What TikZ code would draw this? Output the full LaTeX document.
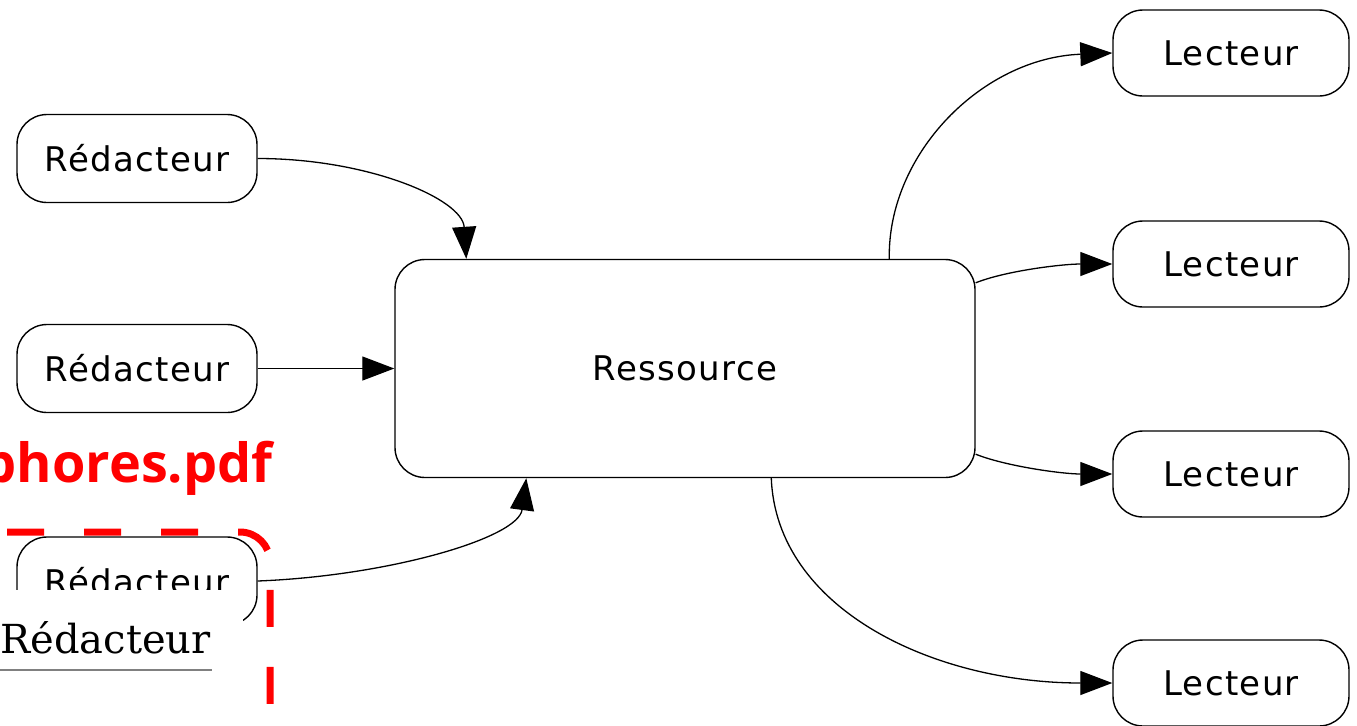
\documentclass[tikz,border=0pt]{standalone}
\usepackage{fontspec}
\usetikzlibrary{arrows.meta}
\setmainfont{DejaVu Sans}
\newfontfamily\boxfont{DejaVu Sans}[LetterSpace=4]
\newfontfamily\serifovl{DejaVu Serif}
\newfontfamily\stampfont{Open Sans}
\begin{document}
\begin{tikzpicture}[x=0.5pt,y=-0.5pt,
  every node/.style={inner sep=0pt},
  writer/.style={draw, line width=0.7pt, rounded corners=15pt,
    minimum width=120pt, minimum height=44pt,
    font=\boxfont\fontsize{17pt}{20pt}\selectfont},
  reader/.style={writer, minimum width=118pt, minimum height=43pt},
  hub/.style={draw, line width=0.7pt, rounded corners=15pt,
    minimum width=290pt, minimum height=109pt,
    font=\boxfont\fontsize{17pt}{20pt}\selectfont},
  link/.style={line width=0.65pt, -{Triangle[length=16pt,width=12pt]}}]
\useasboundingbox (0,0) rectangle (1357,725);
\clip (0,0) rectangle (1357,725);

% writers, resource and readers
\node[writer] (r1) at (137,158.5) {Rédacteur};
\node[writer] (r2) at (137,368.5) {Rédacteur};
\node[writer] (r3) at (137,581) {Rédacteur};
\node[hub] (res) at (685,368.5) {Ressource};
\node[reader] (l1) at (1231,53) {Lecteur};
\node[reader] (l2) at (1231,264) {Lecteur};
\node[reader] (l3) at (1231,474) {Lecteur};
\node[reader] (l4) at (1231,683) {Lecteur};

% writers into the resource
\draw[link] (r1.east) .. controls +(110,0) and +(-4,-60) .. ([xshift=36pt]res.north west);
\draw[link] (r2.east) -- (res.west);
\draw[link] (r3.east) .. controls +(130,-5) and +(-8,60) .. ([xshift=66pt]res.south west);

% resource out to the readers
\draw[link] ([xshift=247.5pt]res.north west) .. controls +(-2,-105) and +(-130,5) .. (l1.west);
\draw[link] ([yshift=-12pt]res.north east) .. controls +(30,-12) and +(-50,0) .. (l2.west);
\draw[link] ([yshift=12pt]res.south east) .. controls +(30,12) and +(-50,0) .. (l3.west);
\draw[link] ([xshift=188.5pt]res.south west) .. controls +(5,130) and +(-180,0) .. (l4.west);

% red file label and dashed frame
\node[anchor=base east, text=red, font=\stampfont\bfseries\fontsize{27pt}{32pt}\selectfont]
  (stamp) at (273,482) {phores.pdf};
\coordinate (fa) at (-70,532);
\coordinate (fb) at (270,532);
\coordinate (fc) at (270,760);
\draw[red, line width=3.5pt, dash pattern=on 18.5pt off 20pt, rounded corners=15pt]
  (fa) -- (fb) -- (fc);

% pasted panel with the serif caption
\fill[white] (0,590) rectangle (243,726);
\node[anchor=base west, font=\serifovl\fontsize{20pt}{24pt}\selectfont] (ovl) at (0,653) {Rédacteur};
\coordinate (ua) at (0,670);
\coordinate (ub) at (212,670);
\draw[black!50, line width=1pt] (ua) -- (ub);
\end{tikzpicture}
\end{document}
